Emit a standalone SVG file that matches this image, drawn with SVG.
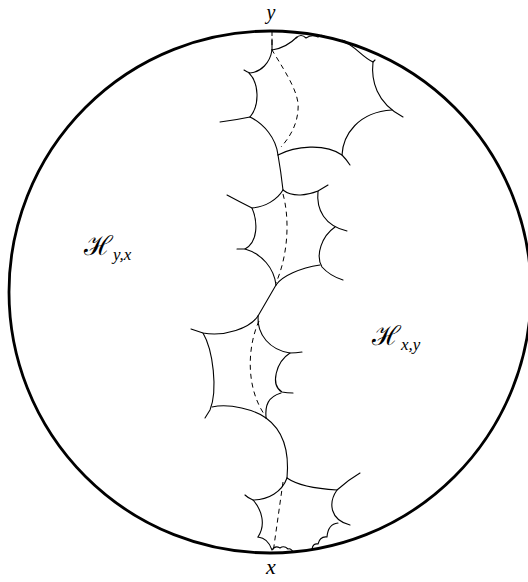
<svg xmlns="http://www.w3.org/2000/svg" width="528" height="582" viewBox="0 0 528 582">
<style>
.c{fill:none;stroke:#000;stroke-width:1.1;stroke-linecap:round;stroke-linejoin:round}
.d{fill:none;stroke:#000;stroke-width:1;stroke-dasharray:5,4}
.m{font-family:"Liberation Serif","DejaVu Serif",serif;font-style:italic;fill:#000}
.h{font-family:"DejaVu Serif","Liberation Serif",serif;fill:#000}
</style>
<rect width="528" height="582" fill="#fff"/>
<g id="disk"><circle cx="270" cy="292" r="261" fill="none" stroke="#000" stroke-width="2.8"/></g>
<g id="poly1">
<path class="c" d="M272,39 L272,50"/>
<path class="c" d="M272,50 Q286,48 297,37"/>
<path class="c" d="M296,38 Q301,33 306,38 Q312,34 318,37 Q321,34 324,36"/>
<path class="c" d="M272,50 C270,63 261,72 250,73 Q247,72 244,70"/>
<path class="c" d="M249,73 C259,83 260,105 250,117"/>
<path class="c" d="M250,117 Q236,120 220,122"/>
<path class="c" d="M250,117 C264,124 276,138 278,155"/>
<path class="c" d="M278,155 Q281,172 283,190"/>
<path class="c" d="M278,155 C295,146 325,143 342,155 Q346,159 350,165"/>
<path class="c" d="M342,155 C343,135 358,112 392,110"/>
<path class="c" d="M373,62 C371,80 376,103 403,117"/>
<path class="c" d="M346,43 C355,46 362,57 373,62 L375,60"/>
<path class="c" d="M340,41 Q344,39 347,43"/>
</g>
<g id="poly2">
<path class="c" d="M283,190 C277,200 265,207 252,208 Q240,202 227,195"/>
<path class="c" d="M252,208 C258,222 258,242 245,249 Q241,249 237,249"/>
<path class="c" d="M245,249 C262,254 274,268 276,285"/>
<path class="c" d="M276,285 L258,316"/>
<path class="c" d="M283,190 C293,198 308,195 318,191 L328,185"/>
<path class="c" d="M318,191 C316,210 325,226 347,231"/>
<path class="c" d="M335,227 C322,236 315,255 322,267 Q330,276 343,280"/>
<path class="c" d="M320,265 C300,268 282,276 276,285"/>
</g>
<g id="poly3">
<path class="c" d="M258,316 C250,328 225,337 203,333 Q197,331 191,329"/>
<path class="c" d="M203,333 C213,350 218,390 210,410 L205,418"/>
<path class="c" d="M212,407 C230,403 255,410 266,418"/>
<path class="c" d="M266,418 C280,428 290,445 287,478"/>
<path class="c" d="M258,316 C257,335 270,350 290,353 Q296,353 302,352"/>
<path class="c" d="M290,353 C276,362 270,385 282,392 Q287,393 293,393"/>
<path class="c" d="M281,393 C268,397 265,405 266,418"/>
</g>
<g id="poly4">
<path class="c" d="M287,478 C282,492 268,500 253,500 Q248,498 245,495"/>
<path class="c" d="M253,500 C262,510 266,525 258,537"/>
<path class="c" d="M258,537 Q268,538 272,550 Q275,545 280,548 Q284,545 288,549 Q291,548 293,552"/>
<path class="c" d="M287,478 C300,487 320,489 337,490 Q348,480 360,473"/>
<path class="c" d="M337,490 C328,503 330,520 350,525"/>
<path class="c" d="M338,523 Q328,524 327,537 Q320,536 318,544 Q313,543 312,549"/>
</g>
<g id="connectors">
<path class="d" d="M272,31 L272,50 C288,76 300,95 298,110 C297,125 290,137 281,147"/>
<path class="d" d="M283,194 C290,220 288,255 276,283"/>
<path class="d" d="M259,321 C248,345 245,385 264,414"/>
<path class="d" d="M283,482 L273,553"/>
</g>
<g id="labels">
<text class="m" x="271" y="19" font-size="20" text-anchor="middle">y</text>
<text class="m" x="271" y="574" font-size="22" text-anchor="middle">x</text>
<text class="h" x="84" y="255" font-size="27">ℋ<tspan class="m" font-size="17" dy="5">y,x</tspan></text>
<text class="h" x="372" y="345" font-size="27">ℋ<tspan class="m" font-size="17" dy="5">x,y</tspan></text>
</g>
</svg>
